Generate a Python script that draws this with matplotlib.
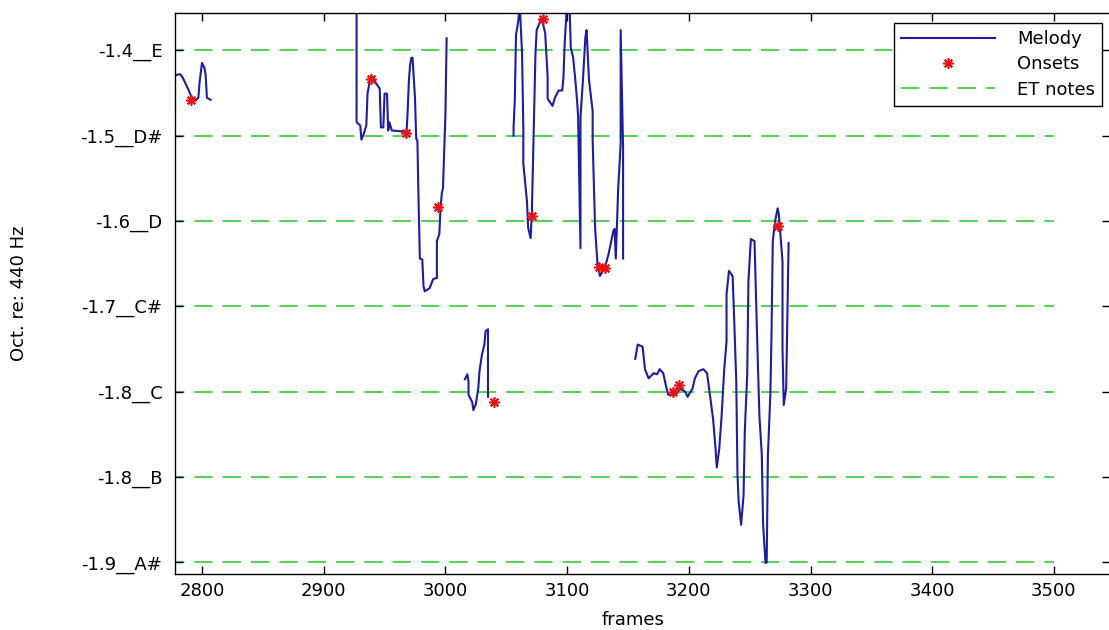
import numpy as np
import matplotlib
matplotlib.use("Agg")
import matplotlib.pyplot as plt

# Equal-tempered note positions (octaves re 440 Hz) and their labels
ET_NOTES = [-1.4167, -1.5, -1.5833, -1.6667, -1.75, -1.8333, -1.9167]
ET_LABELS = ['-1.4__E', '-1.5__D#', '-1.6__D', '-1.7__C#', '-1.8__C', '-1.8__B', '-1.9__A#']
ET_START, ET_END = 2770, 3500

X_TICKS = [2800, 2900, 3000, 3100, 3200, 3300, 3400, 3500]

# Melody pitch track
SEG1_FRAMES = [2778, 2782, 2784, 2788, 2792, 2795, 2797, 2798, 2800, 2802, 2803, 2804, 2807]
SEG1_VALUES = [-1.441, -1.440, -1.443, -1.453, -1.464, -1.465, -1.463, -1.448, -1.429, -1.434,
               -1.441, -1.463, -1.465]

SEG2_FRAMES = [2927, 2927, 2930, 2931, 2933, 2935, 2936, 2938, 2939, 2941, 2943, 2946, 2947, 2949,
               2950, 2952, 2953, 2954, 2956, 2966, 2968, 2969, 2970, 2971, 2972, 2973, 2974, 2975,
               2976, 2977, 2978, 2979, 2981, 2982, 2983, 2987, 2990, 2993, 2993, 2995, 2996, 2997,
               2998, 3000, 3001]
SEG2_VALUES = [-1.36, -1.487, -1.490, -1.504, -1.498, -1.490, -1.459, -1.446, -1.442, -1.444,
               -1.449, -1.454, -1.492, -1.492, -1.459, -1.459, -1.495, -1.487, -1.495, -1.496,
               -1.498, -1.476, -1.446, -1.431, -1.424, -1.424, -1.444, -1.463, -1.503, -1.505,
               -1.567, -1.620, -1.621, -1.647, -1.652, -1.649, -1.640, -1.639, -1.603, -1.596,
               -1.571, -1.557, -1.551, -1.480, -1.405]

SEG3_FRAMES = [3056, 3056, 3057, 3058, 3060, 3061, 3063, 3064, 3064, 3067, 3068, 3070, 3071, 3072,
               3074, 3075, 3076, 3079, 3082, 3084, 3084, 3088, 3090, 3093, 3096, 3097, 3098, 3100,
               3102, 3103, 3105, 3107, 3108, 3109, 3111, 3111, 3113, 3115, 3116, 3118, 3121, 3121,
               3123, 3125, 3127, 3131, 3134, 3138, 3139, 3140, 3142, 3144, 3144, 3146, 3146]
SEG3_VALUES = [-1.500, -1.492, -1.466, -1.402, -1.387, -1.37, -1.420, -1.492, -1.527, -1.564,
               -1.590, -1.600, -1.577, -1.525, -1.420, -1.397, -1.394, -1.385, -1.400, -1.443,
               -1.464, -1.471, -1.463, -1.456, -1.456, -1.443, -1.410, -1.37, -1.37, -1.414,
               -1.424, -1.449, -1.463, -1.480, -1.610, -1.482, -1.446, -1.404, -1.397, -1.446,
               -1.476, -1.505, -1.590, -1.626, -1.637, -1.629, -1.616, -1.593, -1.591, -1.620,
               -1.551, -1.508, -1.397, -1.512, -1.620]

SEG4_FRAMES = [3016, 3018, 3019, 3019, 3022, 3023, 3025, 3027, 3028, 3030, 3032, 3033, 3035, 3035]
SEG4_VALUES = [-1.738, -1.733, -1.740, -1.753, -1.760, -1.768, -1.762, -1.747, -1.730, -1.714,
               -1.704, -1.691, -1.689, -1.755]

SEG5_FRAMES = [3156, 3158, 3162, 3164, 3167, 3171, 3174, 3176, 3179, 3181, 3183, 3189, 3193, 3197,
               3199, 3203, 3205, 3208, 3212, 3215, 3217, 3220, 3222, 3223, 3225, 3227, 3229, 3231,
               3231, 3233, 3236, 3237, 3239, 3240, 3241, 3243, 3245, 3246, 3248, 3249, 3251, 3254,
               3256, 3258, 3260, 3261, 3263, 3264, 3265, 3267, 3268, 3269, 3271, 3273, 3274, 3277,
               3277, 3278, 3280, 3281, 3282]
SEG5_VALUES = [-1.718, -1.704, -1.706, -1.728, -1.737, -1.732, -1.733, -1.728, -1.732, -1.743,
               -1.753, -1.753, -1.747, -1.750, -1.755, -1.747, -1.737, -1.730, -1.728, -1.732,
               -1.750, -1.777, -1.806, -1.824, -1.806, -1.773, -1.730, -1.701, -1.655, -1.632,
               -1.637, -1.669, -1.740, -1.831, -1.858, -1.880, -1.851, -1.789, -1.733, -1.642,
               -1.601, -1.603, -1.691, -1.773, -1.812, -1.878, -1.917, -1.917, -1.812, -1.753,
               -1.691, -1.603, -1.583, -1.571, -1.577, -1.623, -1.708, -1.763, -1.747, -1.675,
               -1.605]

ONSET_FRAMES = [2791, 2939, 2968, 2994, 3040, 3071, 3080, 3126, 3131, 3187, 3192, 3273]
ONSET_VALUES = [-1.465, -1.445, -1.497, -1.570, -1.760, -1.578, -1.386, -1.628, -1.629,
                -1.750, -1.743, -1.588]

plt.rcParams['font.family'] = ['DejaVu Sans']
plt.rcParams['font.size'] = 13

# join segments with NaN gaps so the melody is one line
frames, values = [], []
for f, v in [(SEG1_FRAMES, SEG1_VALUES), (SEG2_FRAMES, SEG2_VALUES), (SEG4_FRAMES, SEG4_VALUES),
             (SEG3_FRAMES, SEG3_VALUES), (SEG5_FRAMES, SEG5_VALUES)]:
    frames += f + [np.nan]
    values += v + [np.nan]

fig = plt.figure(figsize=(11.09, 6.30), dpi=100)
ax = fig.add_axes([175 / 1109, 1 - 574 / 630, 935 / 1109, 561.3 / 630])

ax.plot(frames, values, color='#1c1ca8', lw=1.5, label='Melody')
ax.plot(ONSET_FRAMES, ONSET_VALUES, linestyle='none', marker=(8, 2, 0), markersize=7.5,
        markeredgewidth=1.2, color='#ee1111', label='Onsets', zorder=3)
for i, note in enumerate(ET_NOTES):
    ax.plot([ET_START, ET_END], [note, note], color='#33cc33', lw=1.2, dashes=(11, 6),
            label='ET notes' if i == 0 else None, zorder=1)

ax.set_xlim(2777.8, 3546.1)
ax.set_ylim(-1.928, -1.380)
ax.set_xticks(X_TICKS)
ax.set_yticks(ET_NOTES)
ax.set_yticklabels(ET_LABELS)
ax.tick_params(direction='in', top=True, right=True, length=6, width=1)
ax.tick_params(axis='x', pad=6)
ax.tick_params(axis='y', pad=9)
for s in ax.spines.values():
    s.set_linewidth(1.0)

ax.set_xlabel('frames')
ax.set_ylabel('Oct. re: 440 Hz')
ax.xaxis.set_label_coords(0.49, -0.066)
ax.yaxis.set_label_coords(-0.157, 0.5)

leg = ax.legend(loc='upper right', bbox_to_anchor=(1102 / 1109, 1 - 23 / 630),
                bbox_transform=fig.transFigure, borderaxespad=0, fancybox=False,
                edgecolor='black', framealpha=1, handlelength=5.2, labelspacing=0.4,
                handletextpad=1.2, borderpad=0.4)
leg.get_frame().set_linewidth(1.0)

fig.savefig('out.png', dpi=100)
